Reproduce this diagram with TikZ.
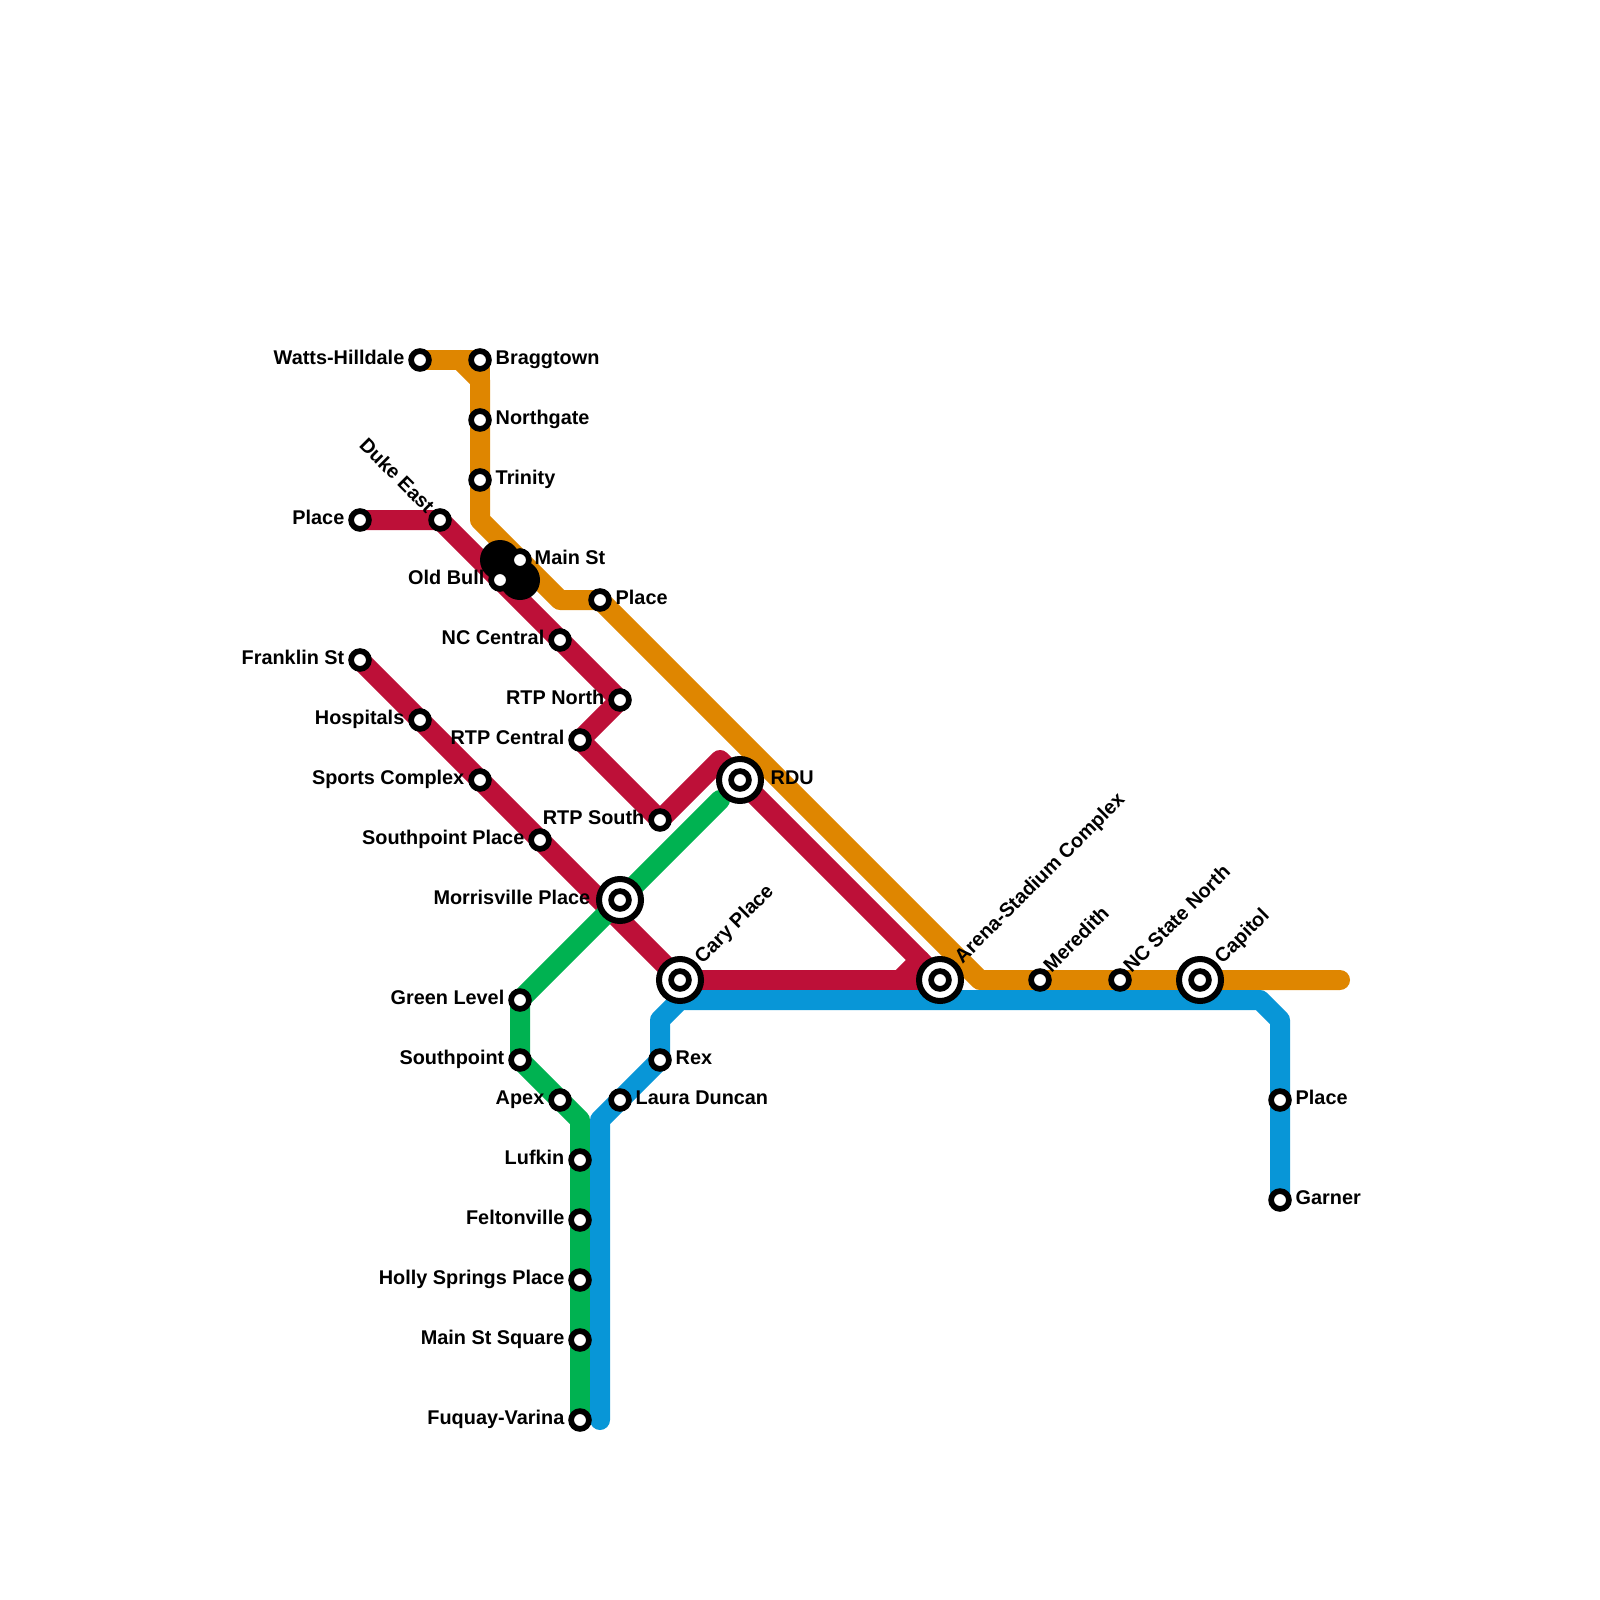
\documentclass[tikz,border=0pt]{standalone}
\usepackage{fontspec}
\setmainfont{Liberation Sans}
\usetikzlibrary{backgrounds}
\definecolor{linered}{HTML}{BD1038}
\definecolor{lineorange}{HTML}{DF8600}
\definecolor{linegreen}{HTML}{00B251}
\definecolor{lineblue}{HTML}{0896D7}
\tikzset{
  stn/.style={circle,draw=black,fill=white,line width=0.57mm,inner sep=0pt,outer sep=0pt,minimum size=1.78mm},
  hubring/.style={circle,draw=black,fill=white,line width=0.6mm,inner sep=0pt,outer sep=0pt,minimum size=4.2mm},
  blob/.style={circle,fill=black,inner sep=0pt,outer sep=0pt,minimum size=4mm},
  lbl/.style={font=\fontsize{5.65pt}{6pt}\selectfont\bfseries,inner sep=0pt,text height=1.3mm,text depth=0.35mm,yshift=-0.15mm},
  lblR/.style={lbl,anchor=west,xshift=-0.1mm},
  lblL/.style={lbl,anchor=east,xshift=0.1mm},
  lblU/.style={lbl,anchor=west,rotate=45,xshift=0.35mm,yshift=0.1mm},
  lblD/.style={lbl,anchor=east,rotate=-45},
  metro/.style={line width=2mm,line cap=round,line join=round},
}
\begin{document}
\begin{tikzpicture}[x=2mm,y=-2mm]
\useasboundingbox (0,0) rectangle (80,80);
% orange line
\node[stn] (watts) at (21,18) {};
\node[stn] (braggtown) at (24,18) {};
\node[stn] (northgate) at (24,21) {};
\node[stn] (trinity) at (24,24) {};
\node[stn] (place1) at (30,30) {};
\node[hubring] (rduring) at (37,39) {};
\node[stn] (rdu) at (37,39) {};
\node[hubring] (arenaring) at (47,49) {};
\node[stn] (arena) at (47,49) {};
\node[stn] (meredith) at (52,49) {};
\node[stn] (ncstate) at (56,49) {};
\node[hubring] (capitolring) at (60,49) {};
\node[stn] (capitol) at (60,49) {};
% red lines
\node[stn] (place2) at (18,26) {};
\node[stn] (dukeeast) at (22,26) {};
\node[blob] (blobA) at (25,28) {};
\node[blob] (blobB) at (26,29) {};
\node[stn] (mainst) at (26,28) {};
\node[stn] (oldbull) at (25,29) {};
\node[stn] (nccentral) at (28,32) {};
\node[stn] (rtpnorth) at (31,35) {};
\node[stn] (rtpcentral) at (29,37) {};
\node[stn] (rtpsouth) at (33,41) {};
\node[stn] (franklin) at (18,33) {};
\node[stn] (hospitals) at (21,36) {};
\node[stn] (sports) at (24,39) {};
\node[stn] (southptplace) at (27,42) {};
\node[hubring] (morrisring) at (31,45) {};
\node[stn] (morris) at (31,45) {};
\node[hubring] (caryring) at (34,49) {};
\node[stn] (cary) at (34,49) {};
% green line
\node[stn] (greenlevel) at (26,50) {};
\node[stn] (southpoint) at (26,53) {};
\node[stn] (apex) at (28,55) {};
\node[stn] (lufkin) at (29,58) {};
\node[stn] (felton) at (29,61) {};
\node[stn] (holly) at (29,64) {};
\node[stn] (mainsq) at (29,67) {};
\node[stn] (fuquay) at (29,71) {};
% blue line
\node[stn] (laura) at (31,55) {};
\node[stn] (rex) at (33,53) {};
\node[stn] (place3) at (64,55) {};
\node[stn] (garner) at (64,60) {};
% bends
\coordinate (bendA) at (23,18);
\coordinate (bendB) at (24,19);
\coordinate (bendC) at (24,26);
\coordinate (bendD) at (28,30);
\coordinate (bendE) at (49,49);
\coordinate (endE) at (67,49);
\coordinate (bendF) at (36,38);
\coordinate (bendG) at (45,49);
\coordinate (bendH) at (46,48);
\coordinate (endG) at (36,40);
\coordinate (bendI) at (29,56);
\coordinate (endI) at (30,71);
\coordinate (bendJ) at (30,56);
\coordinate (bendK) at (33,51);
\coordinate (bendL) at (34,50);
\coordinate (bendM) at (63,50);
\coordinate (bendN) at (64,51);
\begin{scope}[on background layer]
\draw[metro,linered] (franklin.center) -- (cary.center) -- (arena.center);
\draw[metro,linered] (bendG) -- (bendH);
\draw[metro,linered] (place2.center) -- (dukeeast.center) -- (rtpnorth.center) -- (rtpcentral.center) -- (rtpsouth.center) -- (bendF) -- (arena.center);
\draw[metro,linegreen] (endG) -- (greenlevel.center) -- (southpoint.center) -- (bendI) -- (fuquay.center);
\draw[metro,lineorange] (watts.center) -- (braggtown.center) -- (bendB);
\draw[metro,lineorange] (bendA) -- (bendB) -- (bendC) -- (bendD) -- (place1.center) -- (bendE) -- (endE);
\draw[metro,lineblue] (endI) -- (bendJ) -- (rex.center) -- (bendK) -- (bendL) -- (bendM) -- (bendN) -- (garner.center);
\end{scope}
% labels
\node[lblL] (lwatts) at (20.2,17.9) {Watts-Hilldale};
\node[lblR] (lbraggtown) at (24.8,17.9) {Braggtown};
\node[lblR] (lnorthgate) at (24.8,20.9) {Northgate};
\node[lblR] (ltrinity) at (24.8,23.9) {Trinity};
\node[lblL] (lplace2) at (17.2,25.9) {Place};
\node[lblD] (lduke) at (21.5,25.5) {Duke East};
\node[lblR] (lmainst) at (26.75,27.9) {Main St};
\node[lblL] (loldbull) at (24.2,28.9) {Old Bull};
\node[lblR] (lplace1) at (30.8,29.9) {Place};
\node[lblL] (lnccentral) at (27.2,31.9) {NC Central};
\node[lblL] (lfranklin) at (17.2,32.9) {Franklin St};
\node[lblL] (lrtpnorth) at (30.2,34.9) {RTP North};
\node[lblL] (lhospitals) at (20.2,35.9) {Hospitals};
\node[lblL] (lrtpcentral) at (28.2,36.9) {RTP Central};
\node[lblL] (lsports) at (23.2,38.9) {Sports Complex};
\node[lblR] (lrdu) at (38.55,38.9) {RDU};
\node[lblL] (lrtpsouth) at (32.2,40.9) {RTP South};
\node[lblL] (lsouthptplace) at (26.2,41.9) {Southpoint Place};
\node[lblL] (lmorris) at (29.5,44.9) {Morrisville Place};
\node[lblU] (lcary) at (34.85,48.15) {Cary Place};
\node[lblU] (larena) at (47.85,48.15) {Arena-Stadium Complex};
\node[lblU] (lmeredith) at (52.3,48.6) {Meredith};
\node[lblU] (lncstate) at (56.3,48.6) {NC State North};
\node[lblU] (lcapitol) at (60.85,48.15) {Capitol};
\node[lblL] (lgreenlevel) at (25.2,49.9) {Green Level};
\node[lblL] (lsouthpoint) at (25.2,52.9) {Southpoint};
\node[lblR] (lrex) at (33.8,52.9) {Rex};
\node[lblL] (lapex) at (27.2,54.9) {Apex};
\node[lblR] (llaura) at (31.8,54.9) {Laura Duncan};
\node[lblR] (lplace3) at (64.8,54.9) {Place};
\node[lblL] (llufkin) at (28.2,57.9) {Lufkin};
\node[lblL] (lfelton) at (28.2,60.9) {Feltonville};
\node[lblR] (lgarner) at (64.8,59.9) {Garner};
\node[lblL] (lholly) at (28.2,63.9) {Holly Springs Place};
\node[lblL] (lmainsq) at (28.2,66.9) {Main St Square};
\node[lblL] (lfuquay) at (28.2,70.9) {Fuquay-Varina};
\end{tikzpicture}
\end{document}
